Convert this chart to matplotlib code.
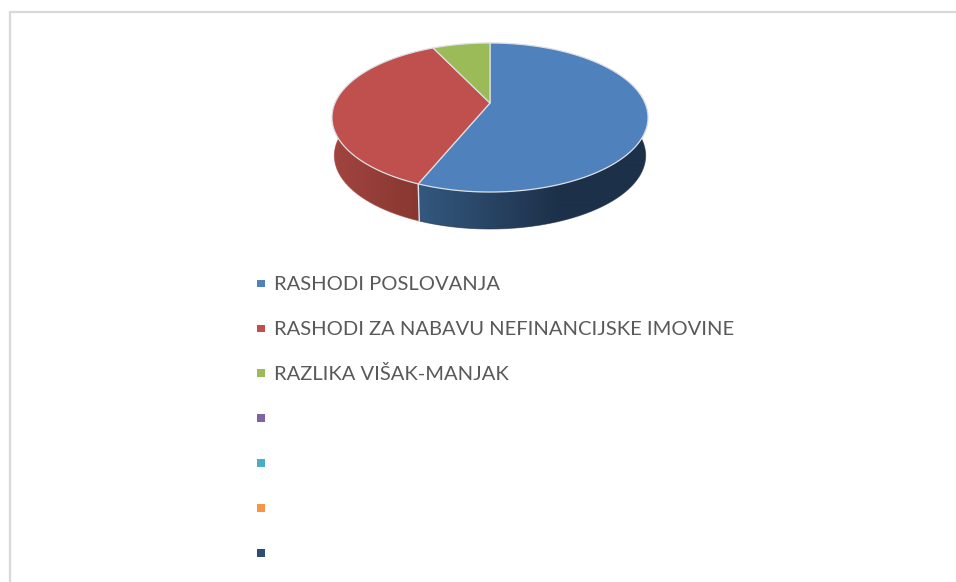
import numpy as np
import matplotlib
matplotlib.use('Agg')
import matplotlib.pyplot as plt
from matplotlib.patches import Polygon

labels = ['RASHODI POSLOVANJA', 'RASHODI ZA NABAVU NEFINANCIJSKE IMOVINE', 'RAZLIKA VIŠAK-MANJAK', '', '', '', '']
values = [56.2, 36.7, 7.1]
colors = ['#4f81bd', '#c0504d', '#9bbb59', '#8064a2', '#4bacc6', '#f79646', '#2c4d75']
side_left = ['#34587f', '#a24441', '#7f9a48']
side_right = ['#1c3049', '#87372f', '#5f7336']

# pie geometry in pixels
cx, cy = 490, 103
R, k, c = 155, 71.7, 0.1946
depth_scale, depth_shift = 0.985, 38.3


def project(ang):
    # ang clockwise from top, perspective on the tilted disc
    X = np.sin(ang)
    Y = np.cos(ang)
    w = 1 + c * Y
    return R * X / w, -k * Y / w


fig = plt.figure(figsize=(9.56, 5.82), dpi=100)
ax = fig.add_axes([0, 0, 1, 1])
ax.axis('off')

# chart frame
ax.plot([10, 10, 956], [582, 12, 12], color='#d9d9d9', lw=1.6, solid_joinstyle='miter')

edges = np.cumsum([0] + values) / sum(values) * 2 * np.pi

# side wall, gradient image clipped to the visible part of each slice
grads = [(418, 560), (332, 420), (332, 420)]
for i in range(2):
    a = np.linspace(edges[i], edges[i + 1], 300)
    a = a[np.cos(a) < 0.4]
    dx, dy = project(a)
    xs = np.r_[cx + dx, (cx + dx * depth_scale)[::-1]]
    ys = np.r_[cy + dy, (cy + dy * depth_scale + depth_shift)[::-1]]
    t = np.clip((np.arange(332, 650) - grads[i][0]) / (grads[i][1] - grads[i][0]), 0, 1)
    left = np.array(matplotlib.colors.to_rgb(side_left[i]))
    right = np.array(matplotlib.colors.to_rgb(side_right[i]))
    grad = (left + (right - left) * t[:, None])[None, :, :]
    im = ax.imshow(grad, extent=(332, 650, 240, 80), aspect='auto', zorder=2, interpolation='bilinear')
    clip = Polygon(np.c_[xs, ys], closed=True, transform=ax.transData)
    im.set_clip_path(clip)
    # stroke smooths the clipped border
    ax.plot((cx + dx * depth_scale), (cy + dy * depth_scale + depth_shift), color=side_right[i] if i == 0 else side_left[i],
            lw=0.7, alpha=0.6, zorder=2)

# white line between the side walls
dx, dy = project(edges[1])
ax.plot([cx + dx, cx + dx * depth_scale], [cy + dy, cy + dy * depth_scale + depth_shift],
        color='#dfe3ea', lw=1, zorder=3)

# top face
for i in range(len(values)):
    a = np.linspace(edges[i], edges[i + 1], 200)
    dx, dy = project(a)
    ax.fill(np.r_[cx, cx + dx], np.r_[cy, cy + dy], facecolor=colors[i], edgecolor='#dcdfe4', lw=0.9,
            joinstyle='round', zorder=4)

# legend
leg_y = 283.5 + 44.9 * np.arange(len(labels))
ax.scatter([261] * len(labels), leg_y, marker='s', s=31, c=colors, linewidths=0, zorder=5)
for y, lab in zip(leg_y, labels):
    ax.text(274, y + 1, lab, color='#595959', fontsize=14.5, family='Lato', va='center', ha='left')

ax.set_xlim(0, 956)
ax.set_ylim(582, 0)
plt.savefig('out.png', dpi=100)
